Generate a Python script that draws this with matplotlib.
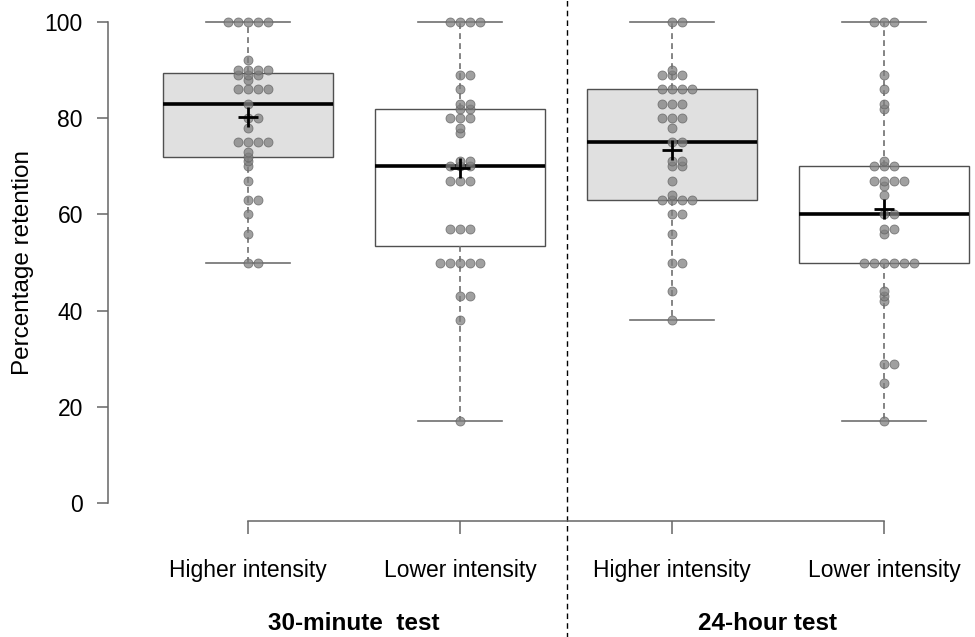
import numpy as np
import matplotlib
matplotlib.use("Agg")
import matplotlib.pyplot as plt
from matplotlib.transforms import blended_transform_factory

plt.rcParams['font.family'] = ['Liberation Sans', 'DejaVu Sans']

groups = ["Higher intensity", "Lower intensity", "Higher intensity", "Lower intensity"]
tests = ["30-minute  test", "24-hour test"]

# individual scores
hi_30 = [100]*5 + [92] + [90]*4 + [89]*3 + [88] + [86]*4 + [83] + [80]*2 + [78] + [75]*4 + \
        [73, 72, 71, 70, 67, 63, 63, 60, 56, 50, 50]
lo_30 = [100]*4 + [89]*2 + [86] + [83]*2 + [82]*2 + [80]*3 + [78, 77] + [71]*2 + [70]*3 + \
        [67]*3 + [57]*3 + [50]*5 + [43]*2 + [38, 17]
hi_24 = [100]*2 + [90] + [89]*3 + [86]*4 + [83]*3 + [80]*3 + [78] + [75]*2 + [71]*2 + [70]*2 + \
        [67, 64] + [63]*4 + [60]*2 + [56] + [50]*2 + [44, 38]
lo_24 = [100]*3 + [89, 86, 83, 82, 71] + [70]*3 + [67]*4 + [66, 64] + [60]*2 + [57]*2 + [56] + \
        [50]*6 + [44, 43, 42] + [29]*2 + [25, 17]
scores = [hi_30, lo_30, hi_24, lo_24]

# box summaries as drawn
q1 = [72, 53.5, 63, 50]
med = [83, 70, 75, 60]
q3 = [89.5, 82, 86, 70]
means = [80.2, 69.6, 73.4, 61.1]
fills = ["#e0e0e0", "white", "#e0e0e0", "white"]

pos = np.arange(1, 5)

fig = plt.figure(figsize=(9.75, 6.37), dpi=100)
ax = fig.add_axes([108/975, 1 - 503/637, 1 - 108/975, (503 - 22)/637])
ax.set_xlim((108 - 36)/212, (975 - 36)/212)
ax.set_ylim(0, 100)

stats = []
for i in range(4):
    stats.append(dict(q1=q1[i], med=med[i], q3=q3[i], whislo=min(scores[i]),
                      whishi=max(scores[i]), mean=means[i], fliers=[]))

bp = ax.bxp(stats, positions=pos, widths=0.8, patch_artist=True, showmeans=False,
            showfliers=False,
            boxprops=dict(edgecolor="#505050", linewidth=1.0),
            medianprops=dict(color="black", linewidth=2.6),
            whiskerprops=dict(color="#707070", linewidth=1.2, linestyle=(0, (3.5, 2.5))),
            capprops=dict(color="#707070", linewidth=1.2), capwidths=0.4)
for patch, c in zip(bp['boxes'], fills):
    patch.set_facecolor(c)
for artist in bp['caps'] + bp['whiskers']:
    artist.set_clip_on(False)

# dots: ties are placed side by side
step = 10/212
for i, vals in enumerate(scores):
    vals = np.array(vals)
    xs, ys = [], []
    for v in np.unique(vals):
        n = int((vals == v).sum())
        offs = np.arange(n) - (n - 1)//2
        xs.extend(pos[i] + offs*step)
        ys.extend([v]*n)
    ax.scatter(xs, ys, s=42, color="#808080", alpha=0.75, edgecolors="#606060",
               linewidths=0.6, zorder=4, clip_on=False)

ax.scatter(pos, means, marker="+", s=190, color="black", linewidths=2, zorder=5)

# separator between the two tests
ax.axvline(2.505, ymin=-0.29, ymax=1.06, color="black", linewidth=1,
           linestyle=(0, (4, 3)), clip_on=False)

for s in ["top", "right"]:
    ax.spines[s].set_visible(False)
ax.spines["left"].set_bounds(0, 100)
ax.spines["bottom"].set_bounds(1, 4)
ax.spines["bottom"].set_position(("outward", 13))
for s in ["left", "bottom"]:
    ax.spines[s].set_color("#666666")
    ax.spines[s].set_linewidth(1.1)

ax.set_yticks([0, 20, 40, 60, 80, 100])
ax.tick_params(axis="y", length=8, width=1.1, color="#666666", pad=10, labelsize=16.5)
ax.set_xticks(pos)
ax.set_xticklabels(groups)
ax.tick_params(axis="x", length=9, width=1.1, color="#666666", pad=18, labelsize=16.5)
ax.set_ylabel("Percentage retention", fontsize=17.5, labelpad=8)

tr = blended_transform_factory(ax.transData, fig.transFigure)
ax.text(1.5, 2/637, tests[0], transform=tr, ha="center", va="bottom",
        fontsize=17.5, fontweight="bold")
ax.text(3.45, 2/637, tests[1], transform=tr, ha="center", va="bottom",
        fontsize=17.5, fontweight="bold")

fig.savefig("out.png", dpi=100)
